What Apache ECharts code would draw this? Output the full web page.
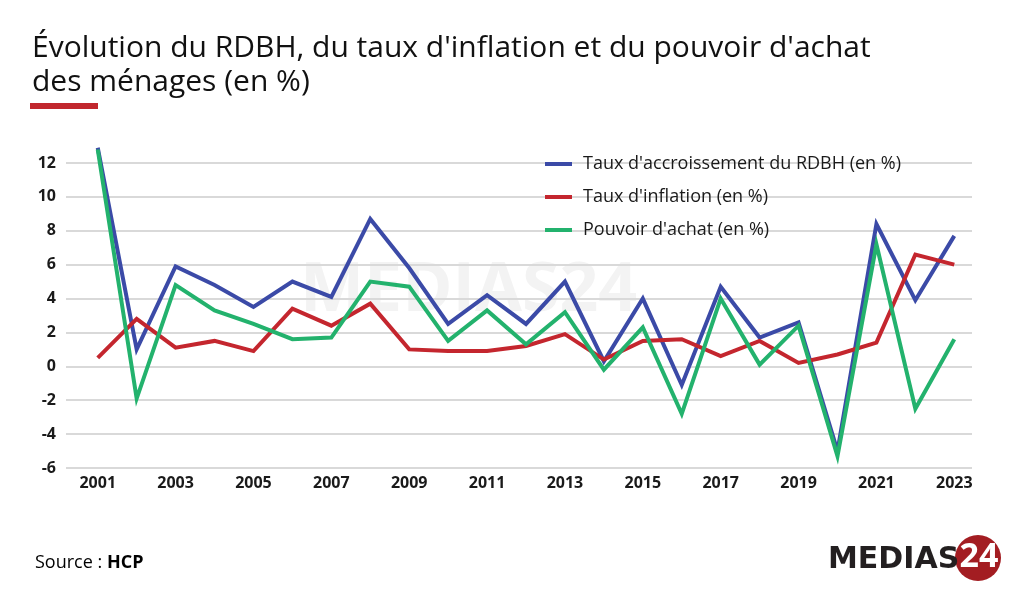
<!DOCTYPE html>
<html>
<head>
<meta charset="utf-8">
<script src="https://cdn.jsdelivr.net/npm/echarts@6/dist/echarts.min.js"></script>
<style>
  html, body { margin: 0; padding: 0; background: #fff; }
  #chart { width: 1024px; height: 609px; }
</style>
</head>
<body>
<div id="chart"></div>
<script>
// data
const years = [2001, 2002, 2003, 2004, 2005, 2006, 2007, 2008, 2009, 2010, 2011, 2012,
  2013, 2014, 2015, 2016, 2017, 2018, 2019, 2020, 2021, 2022, 2023]
const rdbh = [12.9, 1.0, 5.9, 4.8, 3.5, 5.0, 4.1, 8.7, 5.8, 2.5, 4.2, 2.5,
  5.0, 0.3, 4.0, -1.1, 4.7, 1.7, 2.6, -5.0, 8.4, 3.9, 7.7]
const inflation = [0.5, 2.8, 1.1, 1.5, 0.9, 3.4, 2.4, 3.7, 1.0, 0.9, 0.9, 1.2,
  1.9, 0.4, 1.5, 1.6, 0.6, 1.5, 0.2, 0.7, 1.4, 6.6, 6.0]
const pouvoir = [12.8, -1.9, 4.8, 3.3, 2.5, 1.6, 1.7, 5.0, 4.7, 1.5, 3.3, 1.3,
  3.2, -0.2, 2.3, -2.8, 4.0, 0.1, 2.4, -5.3, 7.2, -2.5, 1.6]
const yearLabels = [2001, 2003, 2005, 2007, 2009, 2011, 2013, 2015, 2017, 2019, 2021, 2023]
const seriesNames = ["Taux d'accroissement du RDBH (en %)", "Taux d'inflation (en %)", "Pouvoir d'achat (en %)"]

const chart = echarts.init(document.getElementById('chart'))
const font = '"Open Sans", Lato, sans-serif'

function pairs(values) {
  return years.map((y, i) => [y, values[i]])
}

function lineSeries(name, values, color) {
  return {
    name: name,
    type: 'line',
    data: pairs(values),
    symbol: 'none',
    clip: false,
    lineStyle: { color: color, width: 4, join: 'miter' },
    itemStyle: { color: color },
    z: 3
  }
}

chart.setOption({
  backgroundColor: '#fff',
  animation: false,
  textStyle: { fontFamily: font },
  title: {
    text: "Évolution du RDBH, du taux d'inflation et du pouvoir d'achat\ndes ménages (en %)",
    left: 27,
    top: 26,
    textStyle: { fontSize: 30, fontWeight: 'normal', color: '#111', lineHeight: 34, fontFamily: font }
  },
  legend: {
    orient: 'vertical',
    left: 540,
    top: 149,
    icon: 'rect',
    itemWidth: 27,
    itemHeight: 4,
    itemGap: 13,
    textStyle: { fontSize: 18, lineHeight: 20, color: '#1a1a1a', padding: [0, 0, 0, 6], fontFamily: font },
    data: seriesNames
  },
  grid: { left: 66, right: 52, top: 163, bottom: 141 },
  xAxis: {
    type: 'value',
    min: 2000.185,
    max: 2023.455,
    axisLine: { show: false },
    axisTick: { show: false },
    splitLine: { show: false },
    axisLabel: {
      customValues: yearLabels,
      formatter: v => String(v),
      fontSize: 16,
      fontWeight: 'bold',
      color: '#1a1a1a',
      margin: 7
    }
  },
  yAxis: {
    type: 'value',
    min: -6,
    max: 12,
    interval: 2,
    axisLine: { show: false },
    axisTick: { show: false },
    splitLine: { lineStyle: { color: '#d9d9d9', width: 2 } },
    axisLabel: { fontSize: 16, fontWeight: 'bold', color: '#1a1a1a', margin: 10 }
  },
  graphic: [
    { type: 'rect', left: 30, top: 103, shape: { width: 68, height: 6 }, style: { fill: '#c1272d' } },
    {
      type: 'text', left: 300, top: 258, z: 0,
      style: { text: 'MEDIAS24', fontSize: 68, fontWeight: 'bold', fill: '#f3f3f3', fontFamily: font }
    },
    {
      type: 'text', left: 35, top: 554,
      style: {
        text: '{n|Source : }{b|HCP}',
        rich: {
          n: { fontSize: 18, color: '#1a1a1a', fontFamily: font },
          b: { fontSize: 18, color: '#1a1a1a', fontWeight: 'bold', fontFamily: font }
        }
      }
    },
    { type: 'circle', shape: { cx: 978, cy: 558, r: 23 }, style: { fill: '#a31d22' } },
    {
      type: 'text', z: 10,
      style: { x: 828, y: 560, text: 'MEDIAS', verticalAlign: 'middle', fontSize: 30, fontWeight: 'bold', fill: '#231f20', fontFamily: '"DejaVu Sans", sans-serif' }
    },
    {
      type: 'text', z: 11,
      style: { x: 979, y: 557, text: '24', align: 'center', verticalAlign: 'middle', fontSize: 34, fontWeight: 'bold', fill: '#fff', fontFamily: font }
    }
  ],
  series: [
    lineSeries(seriesNames[0], rdbh, '#3b4aa7'),
    lineSeries(seriesNames[1], inflation, '#c4262e'),
    lineSeries(seriesNames[2], pouvoir, '#23b26d')
  ]
})
</script>
</body>
</html>
